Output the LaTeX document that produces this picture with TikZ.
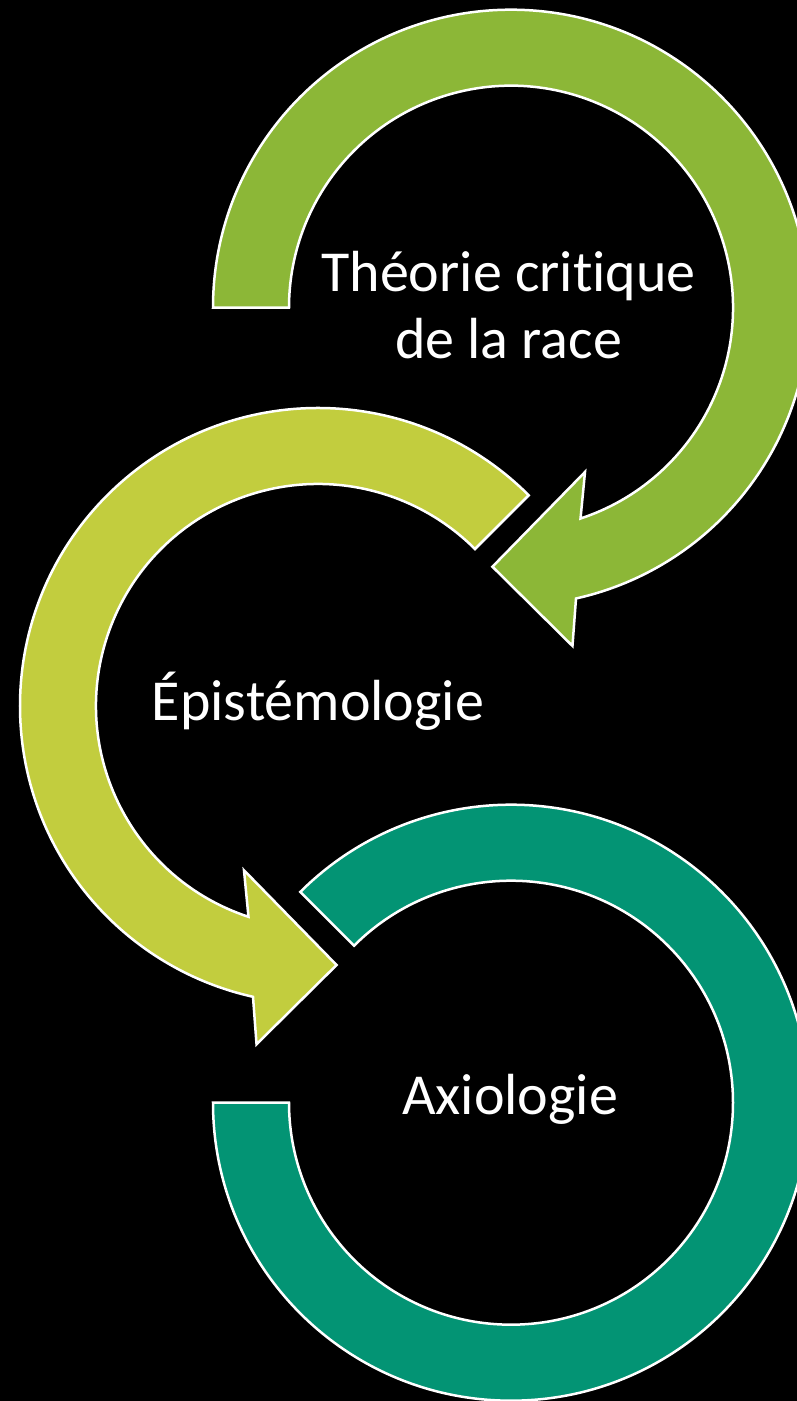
\documentclass[tikz,border=0pt]{standalone}
\usepackage{fontspec}
\setmainfont[Ligatures={NoCommon}]{Carlito}
\definecolor{cgreen}{RGB}{140,183,55}
\definecolor{clime}{RGB}{194,205,62}
\definecolor{cteal}{RGB}{3,148,116}
\begin{document}
\begin{tikzpicture}[x=1pt,y=1pt,
  arrowshape/.style={draw=white,line width=2.5pt,line join=miter},
  lbl/.style={text=white,inner sep=0pt,font=\fontsize{58}{66.7}\selectfont,align=center}]
\fill[black] (0,0) rectangle (797,1401);
\useasboundingbox (0,0) rectangle (797,1401);
\clip (0,0) rectangle (797,1401);
% top arrow
\begin{scope}[shift={(511,1093.3)}]
\fill[cgreen] (180:298) arc[start angle=180,end angle=-77.4,radius=298pt]
  -- (-79.7:343.8) -- (-94.1:259.7) -- (-65.75:180.2) -- (-71.75:222)
  arc[start angle=-71.75,end angle=180,radius=222pt] -- cycle;
\draw[arrowshape] (180:298) arc[start angle=180,end angle=-77.4,radius=298pt]
  -- (-79.7:343.8) -- (-94.1:259.7) -- (-65.75:180.2) -- (-71.75:222)
  arc[start angle=-71.75,end angle=180,radius=222pt] -- cycle;
\end{scope}
% middle arrow
\begin{scope}[shift={(318,695)}]
\fill[clime] (45:298) arc[start angle=45,end angle=257.4,radius=298pt]
  -- (259.7:343.8) -- (274.1:259.7) -- (245.75:180.2) -- (251.75:222)
  arc[start angle=251.75,end angle=45,radius=222pt] -- cycle;
\draw[arrowshape] (45:298) arc[start angle=45,end angle=257.4,radius=298pt]
  -- (259.7:343.8) -- (274.1:259.7) -- (245.75:180.2) -- (251.75:222)
  arc[start angle=251.75,end angle=45,radius=222pt] -- cycle;
\end{scope}
% bottom arc
\begin{scope}[shift={(511,298.3)}]
\fill[cteal] (180:298) arc[start angle=180,end angle=495,radius=298pt]
  -- (135:222) arc[start angle=495,end angle=180,radius=222pt] -- cycle;
\draw[arrowshape] (180:298) arc[start angle=180,end angle=495,radius=298pt]
  -- (135:222) arc[start angle=495,end angle=180,radius=222pt] -- cycle;
\end{scope}
\node[lbl,anchor=base] (t1) at (508.5,1042.7) {Théorie critique\\de la race};
\node[lbl,anchor=base] (t2) at (318,680) {Épistémologie};
\node[lbl,anchor=base] (t3) at (510,286) {Axiologie};
\end{tikzpicture}
\end{document}
